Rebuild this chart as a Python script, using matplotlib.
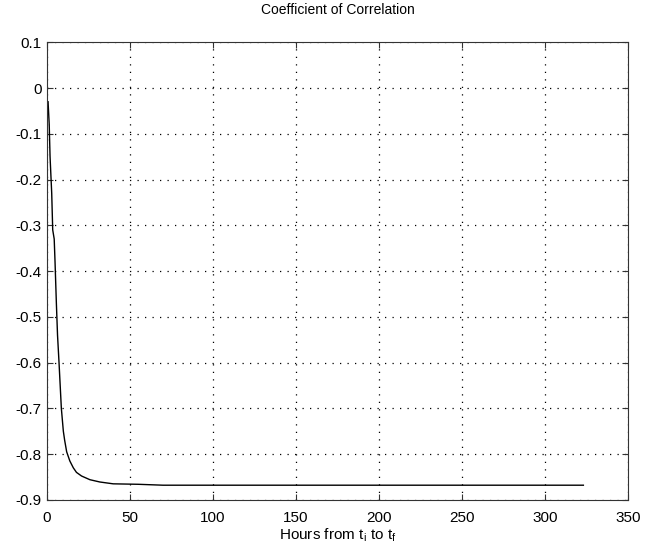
import matplotlib.pyplot as plt
import numpy as np

plt.rcParams['font.family'] = ['Liberation Sans', 'DejaVu Sans']

# hours and correlation values
hours = [0.8, 1.5, 2.0, 3.0, 3.6, 4.5, 5.0, 5.8, 6.5, 7.4, 8.8, 10.0, 10.8,
         12.0, 13.9, 16.0, 17.9, 21.0, 26.0, 32.0, 40.0, 55.0, 70.0, 100.0,
         150.0, 200.0, 250.0, 300.0, 323.0]
corr = [-0.03, -0.08, -0.15, -0.23, -0.31, -0.33, -0.38, -0.47, -0.54, -0.60,
        -0.70, -0.75, -0.77, -0.795, -0.815, -0.83, -0.84, -0.848, -0.856,
        -0.861, -0.865, -0.866, -0.868, -0.868, -0.868, -0.868, -0.868,
        -0.868, -0.868]

xticks = [0, 50, 100, 150, 200, 250, 300, 350]
yticks = [0.1, 0, -0.1, -0.2, -0.3, -0.4, -0.5, -0.6, -0.7, -0.8, -0.9]

fig = plt.figure(figsize=(6.49, 5.56), dpi=100)
ax = fig.add_axes([0.072, 0.101, 0.896, 0.823])
ax.plot(hours, corr, color='black', linewidth=1.0)
ax.set_xlim(0, 350)
ax.set_ylim(-0.9, 0.1)
ax.set_xticks(xticks)
ax.set_yticks(yticks)
ax.set_yticklabels(['0.1', '0', '-0.1', '-0.2', '-0.3', '-0.4', '-0.5',
                    '-0.6', '-0.7', '-0.8', '-0.9'])
ax.grid(True, linestyle=(0, (1, 5)), color='black', linewidth=0.9)
ax.tick_params(direction='in', labelsize=11, top=True, right=True,
               length=4, colors='#333333', labelcolor='black')
ax.tick_params(axis='x', pad=8)
for s in ax.spines.values():
    s.set_color('#333333')
ax.set_title('Coefficient of Correlation', fontsize=10, pad=20)
ax.set_xlabel('Hours from t$_{\\mathregular{i}}$ to t$_{\\mathregular{f}}$',
              fontsize=11, labelpad=1)

fig.savefig('out.png', dpi=100)
